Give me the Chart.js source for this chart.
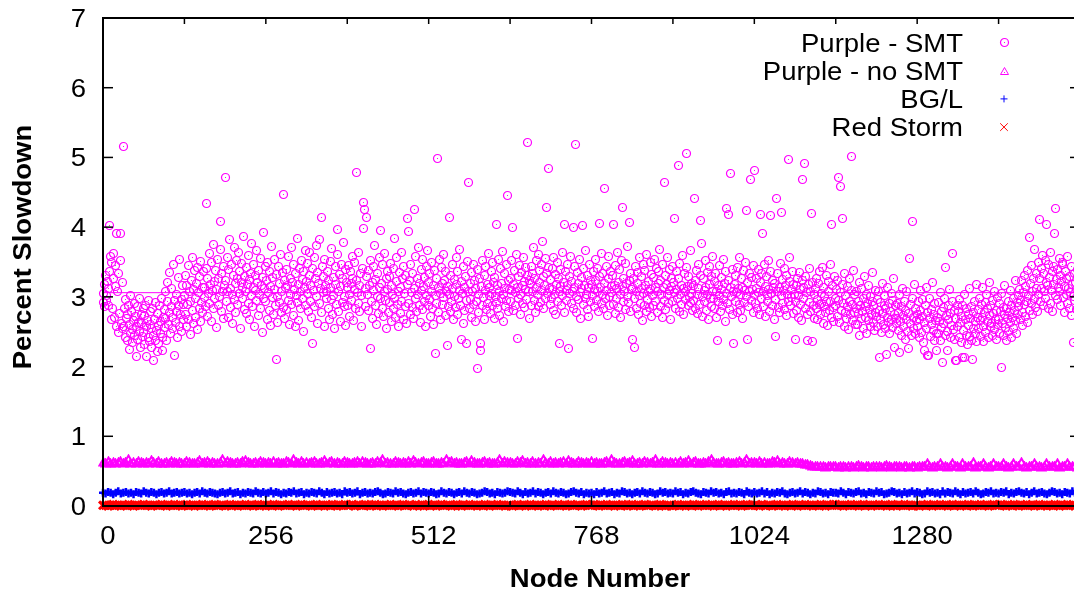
<!DOCTYPE html>
<html>
<head>
<meta charset="utf-8">
<script src="https://cdn.jsdelivr.net/npm/chart.js@4/dist/chart.umd.min.js"></script>
<style>
html, body { margin: 0; padding: 0; background: #fff; overflow: hidden; }
canvas { display: block; }
</style>
</head>
<body>
<canvas id="chartCanvas" width="1090" height="591" style="width:1090px;height:591px"></canvas>
<script>
// percent slowdown per node, Purple with SMT (one value per node, 0..1535)
const purpleSmt = [
3.05,2.92,3.18,2.86,3.31,3.02,2.95,3.22,2.88,3.12,3.36,4.02,3.58,2.67,3.49,2.84,3.27,3.62,2.71,3.45,3.15,2.58,3.91,3.08,2.49,3.33,2.76,3.52,3.91,2.62,3.20,2.55,
5.15,2.58,2.83,2.41,2.96,2.69,2.37,2.74,2.88,2.25,2.61,2.47,3.02,2.79,2.53,2.34,2.66,2.91,2.44,2.72,2.14,2.58,2.86,2.39,2.63,2.97,2.51,2.28,2.75,2.62,2.43,2.84,
2.49,2.73,2.31,2.88,2.57,2.15,2.66,2.42,2.95,2.36,2.61,2.79,2.27,2.54,2.83,2.45,2.09,2.68,2.38,2.92,2.52,2.21,2.76,2.59,2.33,2.87,2.47,2.64,2.98,2.41,2.23,2.71,
2.82,2.56,3.08,2.69,2.38,2.93,3.21,2.61,2.77,3.35,2.48,2.86,3.12,2.54,2.71,3.47,2.95,2.16,2.63,3.03,2.79,2.42,3.28,2.87,2.58,3.54,2.74,2.96,2.51,3.17,2.68,2.89,
3.02,2.74,3.31,2.58,3.16,2.89,3.45,2.67,3.08,2.93,2.46,3.24,3.57,2.81,3.11,2.62,3.38,2.97,2.71,3.19,2.53,3.42,3.06,2.84,3.29,2.65,3.51,2.92,3.13,2.77,3.36,2.99,
3.14,2.86,3.41,4.34,2.72,3.27,3.05,3.62,2.91,3.18,2.64,3.49,3.09,2.83,3.75,3.22,2.97,3.38,2.56,3.11,3.53,2.88,3.26,3.01,3.68,4.08,2.79,3.33,3.07,2.69,3.44,3.16,
4.71,3.24,2.93,3.57,3.08,2.71,3.39,3.82,3.12,2.85,3.46,3.03,2.62,3.31,3.71,2.96,3.19,2.78,3.52,3.27,2.89,3.64,3.05,3.36,2.54,3.21,3.48,2.97,3.13,3.87,2.82,3.29,
3.07,3.42,2.76,3.18,3.59,2.91,3.25,2.67,3.33,3.02,3.76,2.86,3.14,3.47,2.58,3.09,3.31,2.95,3.66,3.21,2.73,3.38,3.04,2.84,3.55,3.17,2.49,3.28,3.93,2.97,3.12,3.44,
2.94,3.23,2.68,3.49,3.06,2.81,3.37,3.15,2.59,3.72,2.99,3.28,2.74,3.11,3.54,2.87,2.10,3.32,3.01,2.63,3.43,3.19,2.92,3.61,2.78,3.08,3.35,4.47,2.85,3.24,2.69,3.13,
3.39,2.82,3.16,3.58,2.95,2.61,3.27,3.04,3.71,2.89,3.21,2.73,3.46,3.11,2.57,3.34,3.02,3.84,2.92,3.18,2.66,3.41,3.07,2.84,3.52,3.25,2.98,2.51,3.36,3.14,3.67,2.87,
3.22,3.05,3.48,2.79,3.31,3.63,2.94,3.17,2.71,3.41,2.33,3.09,3.56,2.86,3.27,3.74,3.01,2.62,3.35,3.19,2.91,3.82,3.12,4.14,2.77,3.44,3.06,3.29,2.58,3.53,3.16,2.97,
3.08,3.37,2.83,3.24,2.68,3.51,3.13,2.96,3.69,2.74,3.28,3.02,2.55,3.43,3.18,2.89,3.61,3.97,3.07,2.79,3.32,3.15,2.64,3.47,2.92,3.26,3.78,3.01,2.86,3.39,2.59,3.21,
3.14,2.88,3.45,3.03,2.72,3.36,3.19,2.95,3.58,3.27,2.66,3.11,3.49,2.84,3.23,4.78,3.06,2.91,3.64,3.17,2.79,3.33,3.02,2.57,3.41,4.35,3.98,4.25,3.12,2.86,3.29,4.14,
3.04,2.81,3.38,3.16,2.26,3.52,2.93,3.21,2.69,3.44,3.09,3.73,2.87,3.25,2.61,3.34,3.01,2.76,3.57,3.13,2.98,3.95,3.19,2.84,3.46,2.72,3.08,3.62,2.95,3.27,2.54,3.36,
3.11,2.78,3.29,2.92,3.48,2.65,3.17,3.03,2.83,3.41,2.97,3.84,2.71,3.22,3.56,2.89,3.07,2.58,3.35,3.14,2.76,3.63,2.94,3.26,2.67,3.43,3.05,2.86,3.31,2.62,4.12,3.18,
2.91,3.94,3.23,2.74,3.47,3.06,2.85,3.34,2.69,4.25,3.12,2.98,3.58,2.79,3.27,3.04,3.71,2.88,3.19,2.63,3.39,3.09,2.82,3.53,3.15,2.94,3.28,2.57,3.44,3.02,3.66,2.87,
3.21,2.96,3.33,2.72,3.08,3.49,2.84,3.17,2.61,3.38,3.02,2.19,3.26,2.91,4.98,3.13,2.77,3.54,3.05,2.68,3.42,3.19,2.89,3.61,2.99,3.24,2.73,3.36,3.07,2.30,3.15,2.86,
4.14,3.03,2.79,3.31,2.94,3.46,3.12,2.67,3.25,3.01,2.85,3.57,3.18,2.74,3.37,2.97,3.09,3.68,2.88,2.39,3.22,3.05,2.62,3.43,3.14,2.81,3.29,2.95,2.33,3.51,4.64,3.07,
2.84,3.19,2.96,3.35,2.71,3.08,3.47,2.89,3.23,2.64,3.12,2.93,3.39,1.97,3.04,2.78,3.26,2.23,2.33,3.15,2.87,3.52,2.99,3.31,2.68,3.09,3.44,2.82,3.18,2.91,3.62,3.02,
3.13,2.76,3.36,3.05,2.88,3.49,3.21,2.69,3.28,3.01,2.92,4.04,3.16,2.83,3.54,3.08,2.73,3.41,3.19,2.97,3.65,3.03,2.64,3.33,3.12,2.86,3.47,2.95,4.45,3.24,2.79,3.11,
3.27,2.94,3.09,3.52,4.00,2.81,3.18,3.38,2.87,3.06,3.61,3.14,2.40,3.29,2.98,3.45,3.03,2.74,3.35,3.17,2.91,3.56,3.22,2.85,3.11,3.42,2.96,3.31,5.21,3.07,2.69,3.24,
3.19,3.44,2.88,3.33,3.07,3.71,2.95,3.26,2.78,3.52,3.14,3.03,3.61,2.86,3.38,3.21,2.92,3.47,3.09,3.79,2.83,3.29,3.16,3.55,2.97,3.34,4.28,3.05,3.42,4.84,3.12,2.89,
3.25,2.98,3.41,3.11,2.81,3.57,3.04,3.32,2.74,3.18,3.49,2.93,3.27,3.07,2.33,3.39,3.15,2.87,3.63,3.02,3.21,2.78,4.04,3.36,3.09,2.95,3.46,3.17,2.26,3.29,3.05,3.58,
2.91,3.22,3.08,4.00,2.84,3.43,3.14,5.18,3.01,2.77,3.35,3.19,2.96,3.54,3.06,2.69,3.28,3.12,4.03,2.89,3.41,3.16,2.98,3.66,3.03,2.82,3.31,3.13,2.72,3.47,3.24,2.94,
3.18,3.02,2.40,3.37,3.11,2.86,3.53,3.24,2.95,3.41,3.07,2.79,3.29,4.05,3.14,2.91,3.62,3.03,3.33,2.84,3.19,4.55,2.97,3.44,3.09,2.73,3.26,3.58,3.01,2.88,3.36,3.15,
3.06,3.31,2.89,4.04,3.17,2.76,3.45,3.12,2.98,3.64,3.21,2.85,3.39,3.04,2.71,3.52,3.15,4.28,2.94,3.27,3.08,2.82,3.48,3.19,3.01,3.72,2.92,4.07,3.23,2.79,3.34,3.11,
3.14,2.39,3.26,2.97,2.28,3.43,3.08,2.83,3.35,3.19,2.74,3.57,3.02,2.91,3.29,3.12,2.66,3.46,3.05,2.87,3.38,3.16,2.79,3.61,2.96,3.22,3.07,2.85,3.49,3.11,2.72,3.32,
3.02,3.28,2.88,3.53,3.14,2.94,3.41,3.07,2.77,3.36,3.19,3.68,2.86,3.24,3.03,2.71,3.47,3.13,2.95,4.64,3.31,2.82,3.18,3.56,3.04,2.91,3.39,3.09,2.67,3.27,3.15,3.44,
2.93,3.21,3.06,4.12,2.84,3.37,3.11,2.98,4.88,3.26,2.79,3.48,3.03,3.17,2.89,3.59,3.12,2.74,3.33,3.08,2.96,3.42,5.05,3.15,2.87,3.29,3.01,3.66,2.92,3.19,3.05,2.81,
3.17,2.95,4.41,3.24,2.83,3.38,3.04,2.76,3.46,3.12,2.89,3.31,4.09,3.77,3.01,2.72,3.27,3.09,2.93,3.52,3.14,2.81,3.35,3.03,2.68,3.43,3.18,2.97,3.29,2.86,3.07,3.58,
2.98,3.22,2.84,3.33,3.07,2.71,2.38,3.16,2.93,3.45,3.02,2.79,3.28,3.11,2.88,3.54,2.96,3.19,2.65,3.37,3.05,4.27,2.91,3.24,4.18,2.82,3.13,4.77,3.01,2.74,3.39,3.08,
2.33,3.18,2.94,3.31,3.06,2.77,3.42,3.12,2.89,3.57,3.03,2.81,3.26,3.14,2.69,3.38,3.09,2.92,3.49,4.24,3.01,2.39,3.21,2.86,3.34,3.07,4.69,2.95,3.28,3.11,2.78,3.45,
3.04,4.81,2.91,3.27,3.12,2.83,3.39,3.06,2.75,4.18,3.21,2.97,3.33,3.91,3.08,2.86,3.46,3.15,2.72,3.29,3.02,2.94,3.52,3.11,2.79,3.36,4.17,3.05,2.88,3.23,3.14,2.68,
3.19,2.96,2.43,4.41,3.08,3.34,2.85,3.13,2.77,3.48,3.02,4.21,2.91,3.25,3.09,2.82,3.41,3.16,2.73,3.31,3.04,4.97,2.93,3.22,3.57,2.87,3.11,2.99,3.37,2.76,3.18,3.03,
2.94,2.39,3.17,2.81,3.26,3.02,2.71,3.35,2.89,3.11,2.66,3.23,4.68,2.97,3.14,4.92,2.84,3.29,3.06,2.75,2.38,3.18,2.92,3.41,2.79,3.08,4.19,2.36,3.21,2.87,3.03,2.69,
3.12,2.83,3.27,2.96,2.68,3.19,2.89,3.36,2.74,3.05,2.91,3.42,2.62,3.14,2.86,3.01,2.77,3.31,2.94,2.59,3.22,3.08,2.81,3.47,2.93,2.71,4.04,3.16,2.85,2.64,3.29,2.98,
2.87,3.11,2.72,3.24,2.95,4.71,2.63,3.06,4.59,2.81,3.18,4.12,2.91,2.57,3.33,2.78,3.02,2.69,3.15,2.86,2.53,3.27,2.94,2.74,5.02,3.09,2.66,2.89,3.38,2.77,3.04,2.61,
2.83,3.07,2.61,2.94,2.76,3.21,2.45,2.88,2.69,3.12,2.79,2.54,2.97,3.29,2.71,2.86,3.04,2.48,2.91,2.66,3.16,2.82,2.58,3.01,2.74,2.93,3.35,2.63,2.87,2.52,3.09,2.78,
2.72,2.96,2.58,3.08,2.81,2.13,2.67,2.92,2.49,3.19,2.76,2.61,2.88,3.02,2.54,2.83,2.18,2.71,3.14,2.63,2.91,2.47,2.79,3.05,2.68,2.95,2.56,3.26,2.74,2.28,2.87,2.62,
2.69,2.91,2.52,2.78,3.03,2.20,2.64,2.86,2.45,3.12,2.73,2.58,2.94,2.39,2.81,2.67,3.07,2.51,2.76,2.26,3.55,2.62,2.89,2.44,2.97,4.08,2.71,2.55,3.18,2.83,2.48,2.66,
2.74,2.57,2.93,2.41,2.68,3.09,2.81,2.49,2.72,2.96,2.35,2.63,2.23,2.87,3.14,2.54,2.77,2.16,2.16,2.69,2.98,2.43,2.82,2.61,3.21,2.52,2.75,2.38,2.91,2.66,2.47,2.23,
2.71,2.92,2.48,2.64,3.06,2.37,2.79,2.56,2.06,2.85,2.62,2.97,2.44,3.42,2.73,2.51,2.23,2.88,2.67,3.11,2.42,2.76,2.59,2.94,3.62,2.53,2.81,2.39,2.09,2.69,2.08,2.87,
2.58,2.79,2.41,2.96,2.63,2.34,2.72,2.88,2.13,2.52,3.04,2.13,2.67,2.45,2.83,2.31,2.74,2.59,3.12,2.43,2.69,2.86,2.38,2.10,2.77,2.55,2.94,2.47,2.64,3.18,2.36,2.71,
2.82,2.54,2.97,2.66,2.43,2.89,2.71,3.14,2.58,2.36,2.78,2.92,2.49,3.03,2.65,2.84,2.41,2.73,3.21,2.57,2.88,2.62,2.45,2.95,2.76,2.53,3.08,2.68,2.39,2.81,2.61,2.99,
2.67,2.91,2.48,2.79,3.05,1.98,2.62,2.85,2.44,2.74,3.16,2.56,2.83,2.37,2.69,2.94,2.51,2.77,3.09,2.63,2.42,2.88,2.71,2.98,2.55,2.81,3.24,2.66,2.47,2.92,2.75,3.02,
2.86,3.11,2.68,2.95,3.24,2.77,2.59,3.06,2.89,3.31,2.72,3.15,2.94,2.63,3.38,3.02,2.81,3.85,3.19,2.91,3.45,2.74,3.08,3.27,2.97,3.68,2.85,3.34,3.12,2.79,3.49,3.03,
3.26,4.11,2.94,3.41,3.12,3.59,2.87,3.33,3.07,3.52,2.98,3.21,4.04,3.16,2.83,3.47,3.28,2.91,3.64,3.09,3.36,2.79,3.18,3.44,3.91,3.02,4.27,3.25,2.96,3.39,3.13,3.55,
3.08,3.31,2.87,3.22,3.46,3.49,2.99,3.15,2.78,3.37,3.04,3.26,2.91,3.58,3.12,2.84,3.29,3.06,3.43,2.73,3.18,3.01,2.35,3.34,2.95,3.21,3.11,2.82,3.39,3.07,2.93,3.24
];
const smtMean = 3.06;

// the three dense series, read every 4th node (nodes 0, 4, 8, ... 1532)
const bandStep = 4;
const purpleNoSmt = [
0.63,0.62,0.64,0.62,0.63,0.61,0.63,0.64,0.62,0.63,0.67,0.62,0.63,0.61,0.64,0.63,0.62,0.63,0.62,0.66,0.63,0.62,0.64,0.62,0.61,0.63,0.62,0.64,0.63,0.62,0.63,0.61,
0.62,0.64,0.63,0.62,0.61,0.63,0.66,0.62,0.63,0.64,0.62,0.63,0.61,0.62,0.63,0.67,0.62,0.64,0.63,0.62,0.61,0.63,0.62,0.64,0.66,0.63,0.62,0.61,0.63,0.62,0.64,0.63,
0.61,0.63,0.62,0.64,0.62,0.63,0.61,0.62,0.64,0.63,0.62,0.68,0.63,0.62,0.64,0.61,0.63,0.62,0.63,0.64,0.62,0.61,0.63,0.66,0.62,0.63,0.64,0.62,0.63,0.61,0.62,0.64,
0.63,0.62,0.61,0.63,0.65,0.62,0.64,0.63,0.62,0.61,0.63,0.62,0.64,0.63,0.67,0.62,0.63,0.61,0.62,0.64,0.63,0.62,0.63,0.61,0.64,0.62,0.66,0.63,0.62,0.63,0.64,0.62,
0.62,0.63,0.64,0.62,0.61,0.63,0.62,0.67,0.63,0.64,0.62,0.63,0.61,0.62,0.63,0.64,0.62,0.66,0.63,0.62,0.61,0.63,0.64,0.62,0.63,0.62,0.61,0.63,0.67,0.62,0.64,0.63,
0.63,0.61,0.62,0.64,0.63,0.66,0.62,0.63,0.61,0.64,0.62,0.63,0.62,0.68,0.63,0.62,0.64,0.61,0.63,0.62,0.63,0.64,0.62,0.66,0.63,0.61,0.62,0.64,0.63,0.62,0.63,0.62,
0.64,0.62,0.63,0.61,0.62,0.63,0.64,0.62,0.67,0.63,0.62,0.61,0.63,0.64,0.62,0.63,0.66,0.62,0.61,0.63,0.62,0.64,0.63,0.62,0.63,0.67,0.61,0.62,0.64,0.63,0.62,0.63,
0.62,0.63,0.61,0.64,0.62,0.63,0.66,0.62,0.63,0.64,0.61,0.62,0.63,0.62,0.64,0.68,0.63,0.62,0.61,0.63,0.64,0.62,0.63,0.62,0.61,0.63,0.64,0.62,0.63,0.67,0.62,0.63,
0.63,0.62,0.64,0.62,0.63,0.61,0.62,0.64,0.63,0.66,0.62,0.63,0.61,0.62,0.64,0.63,0.62,0.63,0.62,0.61,0.60,0.60,0.59,0.58,0.58,0.57,0.58,0.57,0.56,0.58,0.57,0.57,
0.57,0.56,0.58,0.57,0.56,0.57,0.58,0.56,0.57,0.59,0.57,0.56,0.58,0.57,0.56,0.57,0.58,0.57,0.56,0.57,0.59,0.57,0.56,0.58,0.57,0.57,0.56,0.58,0.57,0.56,0.57,0.58,
0.56,0.57,0.58,0.57,0.61,0.57,0.56,0.58,0.57,0.62,0.57,0.58,0.56,0.57,0.61,0.58,0.57,0.56,0.62,0.57,0.58,0.57,0.63,0.56,0.57,0.58,0.61,0.57,0.56,0.58,0.62,0.57,
0.57,0.58,0.62,0.57,0.56,0.58,0.61,0.57,0.58,0.63,0.57,0.56,0.58,0.57,0.62,0.58,0.57,0.56,0.58,0.61,0.57,0.58,0.57,0.62,0.56,0.58,0.57,0.61,0.57,0.58,0.57,0.56
];
const bgl = [
0.19,0.18,0.20,0.19,0.17,0.19,0.21,0.18,0.19,0.20,0.18,0.19,0.17,0.20,0.19,0.18,0.21,0.19,0.18,0.20,0.19,0.17,0.19,0.20,0.18,0.19,0.21,0.18,0.19,0.20,0.18,0.19,
0.20,0.18,0.19,0.17,0.19,0.20,0.18,0.21,0.19,0.18,0.20,0.19,0.18,0.17,0.19,0.20,0.18,0.19,0.21,0.18,0.19,0.20,0.17,0.19,0.18,0.20,0.19,0.18,0.21,0.19,0.18,0.20,
0.18,0.19,0.21,0.18,0.20,0.19,0.17,0.19,0.18,0.20,0.19,0.21,0.18,0.19,0.20,0.17,0.19,0.18,0.20,0.19,0.18,0.21,0.19,0.17,0.20,0.18,0.19,0.20,0.18,0.19,0.17,0.21,
0.19,0.20,0.18,0.19,0.21,0.17,0.19,0.20,0.18,0.19,0.18,0.20,0.21,0.19,0.17,0.18,0.20,0.19,0.18,0.21,0.19,0.20,0.18,0.17,0.19,0.20,0.18,0.19,0.21,0.18,0.20,0.19,
0.18,0.20,0.19,0.17,0.18,0.21,0.19,0.18,0.20,0.19,0.17,0.19,0.20,0.18,0.21,0.19,0.18,0.20,0.19,0.17,0.18,0.19,0.21,0.20,0.18,0.19,0.17,0.20,0.19,0.18,0.19,0.21,
0.20,0.19,0.18,0.21,0.19,0.17,0.20,0.18,0.19,0.21,0.18,0.20,0.19,0.17,0.19,0.20,0.18,0.21,0.19,0.18,0.20,0.19,0.17,0.18,0.20,0.21,0.19,0.18,0.20,0.17,0.19,0.18,
0.19,0.17,0.20,0.18,0.19,0.21,0.18,0.19,0.20,0.17,0.19,0.18,0.21,0.20,0.18,0.19,0.17,0.19,0.20,0.18,0.21,0.19,0.18,0.20,0.19,0.17,0.18,0.21,0.19,0.20,0.18,0.19,
0.18,0.21,0.19,0.20,0.17,0.19,0.18,0.20,0.21,0.19,0.18,0.17,0.20,0.19,0.18,0.21,0.19,0.20,0.18,0.19,0.17,0.20,0.21,0.18,0.19,0.18,0.20,0.19,0.17,0.21,0.19,0.18,
0.20,0.18,0.19,0.21,0.18,0.20,0.17,0.19,0.18,0.20,0.19,0.21,0.18,0.17,0.19,0.20,0.18,0.19,0.21,0.18,0.20,0.19,0.17,0.19,0.18,0.21,0.20,0.18,0.19,0.17,0.20,0.19,
0.19,0.18,0.21,0.19,0.17,0.20,0.19,0.18,0.20,0.21,0.18,0.19,0.17,0.20,0.19,0.18,0.21,0.19,0.20,0.17,0.18,0.19,0.21,0.20,0.18,0.19,0.17,0.20,0.18,0.19,0.21,0.18,
0.20,0.19,0.17,0.18,0.21,0.19,0.20,0.18,0.19,0.17,0.21,0.18,0.20,0.19,0.18,0.21,0.19,0.17,0.20,0.18,0.19,0.20,0.18,0.21,0.19,0.17,0.18,0.20,0.19,0.21,0.18,0.19,
0.18,0.20,0.19,0.21,0.17,0.19,0.18,0.20,0.21,0.19,0.18,0.20,0.17,0.19,0.21,0.18,0.19,0.20,0.18,0.17,0.19,0.21,0.20,0.18,0.19,0.17,0.20,0.19,0.18,0.21,0.19,0.20
];
const redStorm = [
0.01,0.01,0.00,0.01,0.02,0.01,0.01,0.00,0.01,0.01,0.02,0.01,0.00,0.01,0.01,0.01,0.02,0.01,0.01,0.00,0.01,0.01,0.01,0.02,0.01,0.00,0.01,0.01,0.02,0.01,0.01,0.00,
0.01,0.02,0.01,0.01,0.00,0.01,0.01,0.02,0.01,0.01,0.00,0.01,0.02,0.01,0.01,0.01,0.00,0.01,0.02,0.01,0.01,0.00,0.01,0.01,0.02,0.01,0.01,0.00,0.01,0.02,0.01,0.01,
0.00,0.01,0.01,0.02,0.01,0.00,0.01,0.01,0.01,0.02,0.01,0.01,0.00,0.01,0.02,0.01,0.01,0.01,0.00,0.01,0.02,0.01,0.01,0.00,0.01,0.01,0.02,0.01,0.00,0.01,0.01,0.02,
0.01,0.01,0.02,0.00,0.01,0.01,0.01,0.02,0.01,0.00,0.01,0.02,0.01,0.01,0.00,0.01,0.01,0.02,0.01,0.01,0.00,0.01,0.02,0.01,0.01,0.01,0.00,0.02,0.01,0.01,0.00,0.01,
0.02,0.01,0.01,0.00,0.01,0.02,0.01,0.01,0.01,0.00,0.01,0.02,0.01,0.00,0.01,0.01,0.02,0.01,0.01,0.00,0.01,0.01,0.02,0.01,0.00,0.01,0.01,0.02,0.01,0.01,0.00,0.01,
0.01,0.00,0.01,0.02,0.01,0.01,0.00,0.01,0.02,0.01,0.01,0.00,0.01,0.01,0.02,0.01,0.00,0.01,0.01,0.02,0.01,0.01,0.00,0.01,0.02,0.01,0.01,0.01,0.00,0.01,0.02,0.01,
0.01,0.02,0.01,0.00,0.01,0.01,0.02,0.01,0.01,0.00,0.01,0.01,0.02,0.01,0.00,0.01,0.02,0.01,0.01,0.00,0.01,0.02,0.01,0.01,0.01,0.00,0.01,0.02,0.01,0.00,0.01,0.01,
0.00,0.01,0.02,0.01,0.01,0.00,0.01,0.01,0.02,0.01,0.00,0.01,0.01,0.02,0.01,0.01,0.00,0.01,0.02,0.01,0.01,0.00,0.01,0.01,0.02,0.01,0.01,0.00,0.01,0.02,0.01,0.01,
0.01,0.01,0.00,0.02,0.01,0.01,0.01,0.00,0.01,0.02,0.01,0.01,0.00,0.01,0.01,0.02,0.01,0.00,0.01,0.01,0.02,0.01,0.01,0.00,0.01,0.01,0.02,0.01,0.00,0.01,0.01,0.02,
0.02,0.01,0.01,0.00,0.01,0.01,0.02,0.01,0.01,0.00,0.01,0.02,0.01,0.01,0.00,0.01,0.01,0.02,0.01,0.01,0.00,0.01,0.02,0.01,0.00,0.01,0.01,0.02,0.01,0.01,0.00,0.01,
0.01,0.00,0.01,0.01,0.02,0.01,0.00,0.01,0.01,0.02,0.01,0.01,0.00,0.01,0.02,0.01,0.01,0.00,0.01,0.01,0.02,0.01,0.00,0.01,0.01,0.02,0.01,0.01,0.00,0.01,0.02,0.01,
0.01,0.02,0.01,0.00,0.01,0.01,0.02,0.01,0.00,0.01,0.01,0.02,0.01,0.01,0.00,0.01,0.02,0.01,0.01,0.00,0.01,0.01,0.02,0.01,0.00,0.01,0.01,0.02,0.01,0.01,0.00,0.01
];

const seriesNames = ['Purple - SMT', 'Purple - no SMT', 'BG/L', 'Red Storm'];
const seriesColors = ['#ff00ff', '#ff00ff', '#0000ff', '#ff0000'];
const yTickValues = [0, 1, 2, 3, 4, 5, 6, 7];
const xTickValues = [0, 256, 512, 768, 1024, 1280];
const xMinorStep = 128;
const xMax = 1536;

const FONT = '"Liberation Sans", Arial, Helvetica, sans-serif';

function markerCanvas(w, h, draw) {
    const c = document.createElement('canvas');
    c.width = w;
    c.height = h;
    const g = c.getContext('2d');
    g.strokeStyle = '#ff00ff';
    g.fillStyle = '#ff00ff';
    g.lineWidth = 1;
    draw(g);
    return c;
}

// gnuplot style circle / triangle with a dot in the middle
const circleDot = markerCanvas(11, 11, g => {
    g.lineWidth = 1.2;
    g.beginPath();
    g.arc(5.5, 5.5, 4, 0, Math.PI * 2);
    g.stroke();
    g.fillRect(5, 5, 1, 1);
});
const triangleDot = markerCanvas(11, 10, g => {
    g.beginPath();
    g.moveTo(5.5, 1.5);
    g.lineTo(1.5, 8.5);
    g.lineTo(9.5, 8.5);
    g.closePath();
    g.stroke();
    g.fillRect(5, 6, 1, 1);
});
// the no-SMT band is drawn much denser in the original, so heavier outline here
const triangleBand = markerCanvas(11, 10, g => {
    g.lineWidth = 2;
    g.beginPath();
    g.moveTo(5.5, 1.5);
    g.lineTo(1.5, 8.5);
    g.lineTo(9.5, 8.5);
    g.closePath();
    g.stroke();
});

function text(ctx, s, x, y, align, bold, rot) {
    ctx.save();
    ctx.translate(x, y);
    if (rot) ctx.rotate(rot);
    ctx.scale(1.1, 1);
    ctx.font = (bold ? 'bold ' : '') + '25px ' + FONT;
    ctx.textAlign = align;
    ctx.textBaseline = 'alphabetic';
    ctx.fillStyle = '#000';
    ctx.fillText(s, 0, 0);
    ctx.restore();
}

function seg(ctx, x1, y1, x2, y2) {
    ctx.beginPath();
    ctx.moveTo(x1, y1);
    ctx.lineTo(x2, y2);
    ctx.stroke();
}

function drawLegendSymbol(ctx, i, x, y) {
    ctx.save();
    ctx.strokeStyle = seriesColors[i];
    ctx.lineWidth = 1;
    if (i === 0) ctx.drawImage(circleDot, Math.round(x - 5.5), Math.round(y - 5.5));
    if (i === 1) ctx.drawImage(triangleDot, Math.round(x - 5.5), Math.round(y - 5));
    if (i === 2) {
        seg(ctx, x - 3.5, y, x + 3.5, y);
        seg(ctx, x, y - 3.5, x, y + 3.5);
    }
    if (i === 3) {
        seg(ctx, x - 3.8, y - 3.8, x + 3.8, y + 3.8);
        seg(ctx, x - 3.8, y + 3.8, x + 3.8, y - 3.8);
    }
    ctx.restore();
}

const gnuplotFrame = {
    id: 'gnuplotFrame',
    beforeDatasetsDraw(chart) {
        // crisp bitmap markers, like the original
        chart.ctx.imageSmoothingEnabled = false;
    },
    afterDatasetsDraw(chart) {
        const ctx = chart.ctx;
        const a = chart.chartArea;
        const xs = chart.scales.x;
        const ys = chart.scales.y;
        ctx.save();
        ctx.imageSmoothingEnabled = true;
        ctx.strokeStyle = '#000';

        // tics
        ctx.lineWidth = 1.5;
        yTickValues.forEach(v => {
            const p = ys.getPixelForValue(v);
            seg(ctx, a.left, p, a.left + 10, p);
            seg(ctx, a.right - 10, p, a.right, p);
        });
        for (let n = 0; n <= xMax; n += xMinorStep) {
            const p = xs.getPixelForValue(n);
            const major = n % 256 === 0;
            seg(ctx, p, a.bottom, p, a.bottom - (major ? 10 : 5));
            seg(ctx, p, a.top, p, a.top + 6);
        }

        // border
        ctx.lineWidth = 2;
        ctx.strokeRect(a.left, a.top, a.right - a.left, a.bottom - a.top);

        // tick labels
        yTickValues.forEach(v => text(ctx, String(v), 86, ys.getPixelForValue(v) + 9, 'right', false));
        xTickValues.forEach(v => text(ctx, String(v), xs.getPixelForValue(v) + 5, 544, 'center', false));

        // axis titles
        text(ctx, 'Node Number', 600, 587, 'center', true);
        text(ctx, 'Percent Slowdown', 31, 247, 'center', true, -Math.PI / 2);

        // key
        seriesNames.forEach((name, i) => {
            const y = 42.5 + i * 28.2;
            text(ctx, name, 963, y + 9, 'right', false);
            drawLegendSymbol(ctx, i, 1004, y);
        });
        ctx.restore();
    }
};

const chartCanvas = document.getElementById('chartCanvas');
const ctx = chartCanvas.getContext('2d');

const smtPoints = purpleSmt.map((v, i) => ({ x: i, y: v }));
const bandPoints = arr => arr.map((v, i) => ({ x: i * bandStep, y: v }));

window.myChart = new Chart(ctx, {
    type: 'scatter',
    data: {
        datasets: [
            {
                label: seriesNames[0],
                data: smtPoints,
                pointStyle: circleDot,
                pointRadius: 4.5,
                borderColor: seriesColors[0],
                clip: false
            },
            {
                label: 'mean',
                data: [{ x: 0, y: smtMean }, { x: xMax, y: smtMean }],
                showLine: true,
                pointRadius: 0,
                borderColor: seriesColors[0],
                borderWidth: 1
            },
            {
                label: seriesNames[1],
                data: bandPoints(purpleNoSmt),
                pointStyle: triangleBand,
                pointRadius: 4.5,
                borderColor: seriesColors[1],
                clip: false
            },
            {
                label: seriesNames[2],
                data: bandPoints(bgl),
                pointStyle: 'cross',
                pointRadius: 4,
                pointBorderWidth: 2.5,
                borderColor: seriesColors[2],
                backgroundColor: seriesColors[2],
                clip: false
            },
            {
                label: seriesNames[3],
                data: bandPoints(redStorm),
                pointStyle: 'crossRot',
                pointRadius: 5.6,
                pointBorderWidth: 3,
                borderColor: seriesColors[3],
                backgroundColor: seriesColors[3],
                clip: false
            }
        ]
    },
    options: {
        responsive: false,
        maintainAspectRatio: false,
        animation: false,
        devicePixelRatio: 1,
        events: [],
        layout: { padding: { left: 103, top: 18, right: 10, bottom: 85 } },
        scales: {
            x: { type: 'linear', min: 0, max: xMax, display: false },
            y: { type: 'linear', min: 0, max: 7, display: false }
        },
        plugins: {
            legend: { display: false },
            tooltip: { enabled: false },
            title: { display: false }
        }
    },
    plugins: [gnuplotFrame]
});
</script>
</body>
</html>
